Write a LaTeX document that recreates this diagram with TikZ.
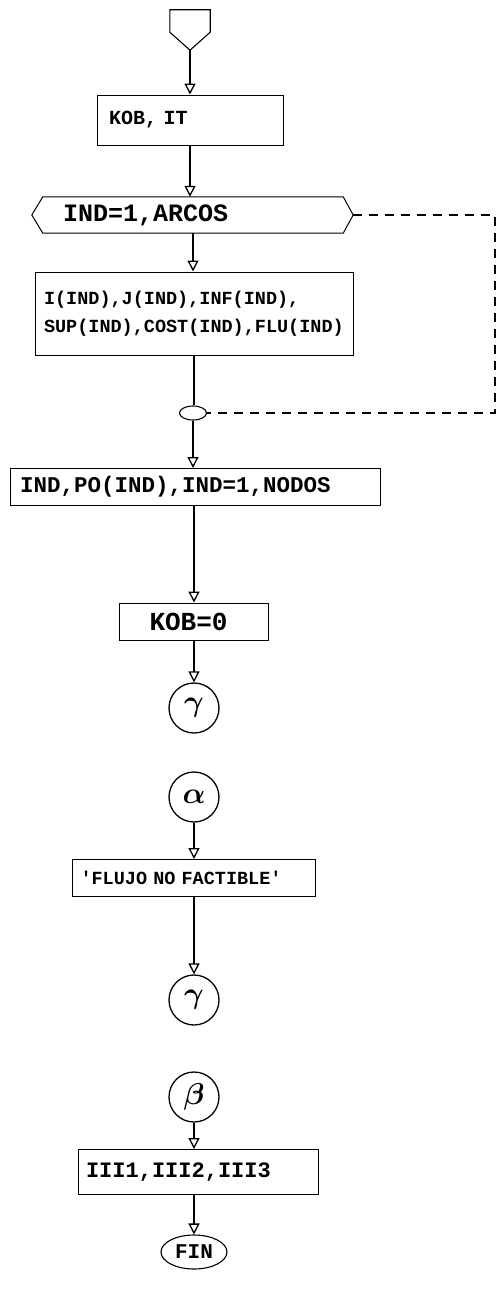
\documentclass[tikz,border=0pt]{standalone}
\usepackage{fontspec}
\newfontfamily\cardfont{Liberation Mono}
\usetikzlibrary{arrows.meta,calc,shapes.geometric}
\newcommand\conlabel[1]{\scalebox{1.45}{$\boldsymbol{#1}$}}
\usepackage{amsmath}
\begin{document}
\begin{tikzpicture}[x=1pt,y=-1pt,
  flow/.style={line width=1.4pt,-{Triangle[open,length=11pt,width=11pt,line width=1.3pt]}},
  link/.style={line width=1.4pt},
  loopback/.style={line width=1.2pt,dash pattern=on 9pt off 7pt},
  card/.style={draw,line width=1pt,inner ysep=0pt,align=left},
  tt/.style={font={\cardfont\bfseries\fontsize{#1}{28}\selectfont}},
  conn/.style={circle,draw,line width=1.3pt,minimum size=50pt,inner sep=0pt,
    font={\fontsize{20}{20}\selectfont}},
]
\useasboundingbox (0,0) rectangle (498,1290);

% off-page entry connector
\node[minimum width=40pt,minimum height=40pt,inner sep=0pt] (entry) at (190,30) {};
\draw[line width=1.1pt] (entry.north west) -- ($(entry.south west)+(0,-18)$)
  -- (entry.south) -- ($(entry.south east)+(0,-18)$) -- (entry.north east) -- cycle;

% read KOB, IT
\node[card,tt=20,text width=162pt,inner xsep=12pt,minimum height=50pt] (kob) at (190,120) {KOB, IT};

% DO loop over the arcs
\node[tt=25,inner xsep=20pt,inner ysep=0pt,text width=260pt,minimum height=36pt,align=left]
  (loop) at (193,215) {IND=1,ARCOS};
\draw[line width=1pt] (loop.north west) -- (loop.north east)
  -- ($(loop.east)+(10,0)$) coordinate (loopR) -- (loop.south east)
  -- (loop.south west) -- ($(loop.west)+(-11,0)$) -- cycle;

% arc data
\node[card,tt=18.5,text width=300pt,inner xsep=9pt,minimum height=83pt] (arcs) at (194,313.5)
  {I(IND),J(IND),INF(IND),\\SUP(IND),COST(IND),FLU(IND)};

% loop end
\node[ellipse,draw,line width=1.1pt,minimum width=27pt,minimum height=14pt,inner sep=0pt]
  (jn) at (193,413) {};

% node potentials
\node[card,tt=22.5,text width=350pt,inner xsep=10pt,minimum height=37pt] (pot) at (195,487)
  {IND,PO(IND),IND=1,NODOS};

% reset
\node[card,tt=26,text width=89pt,inner xsep=30pt,minimum height=37pt] (kob0) at (194,621.5) {KOB=0};

\node[conn] (g1) at (194,708) {\conlabel{\gamma}};
\node[conn] (al) at (194,797) {\conlabel{\alpha}};

\node[card,tt=18.5,text width=227pt,inner xsep=8pt,minimum height=37pt] (nf) at (194,878)
  {'FLUJO NO FACTIBLE'};

\node[conn] (g2) at (194,1000) {\conlabel{\gamma}};
\node[conn] (be) at (194,1097) {\conlabel{\beta}};

\node[card,tt=22,text width=224pt,inner xsep=8pt,minimum height=45pt] (out) at (198,1172)
  {III1,III2,III3};

\node[ellipse,draw,line width=1.1pt,minimum width=66pt,minimum height=34pt,inner sep=0pt,tt=21]
  (fin) at (194,1252) {FIN};

% connectors
\coordinate (rt) at (495,215);
\coordinate (rb) at (495,413);
\draw[flow] (entry.south) -- (entry.south |- kob.north);
\draw[flow] (kob.south) -- (kob.south |- loop.north);
\draw[flow] (loop.south) -- (loop.south |- arcs.north);
\draw[link] (arcs.south) -- (arcs.south |- jn.north);
\draw[flow] (jn.south) -- (jn.south |- pot.north);
\draw[loopback] (loopR) -- (rt) -- (rb) -- (jn.east);
\draw[flow] (pot.south -| kob0.north) -- (kob0.north);
\draw[flow] (kob0.south) -- (kob0.south |- g1.north);
\draw[flow] (al.south) -- (al.south |- nf.north);
\draw[flow] (nf.south -| g2.north) -- (g2.north);
\draw[flow] (be.south) -- (be.south |- out.north);
\draw[flow] (out.south -| fin.north) -- (fin.north);
\end{tikzpicture}
\end{document}
